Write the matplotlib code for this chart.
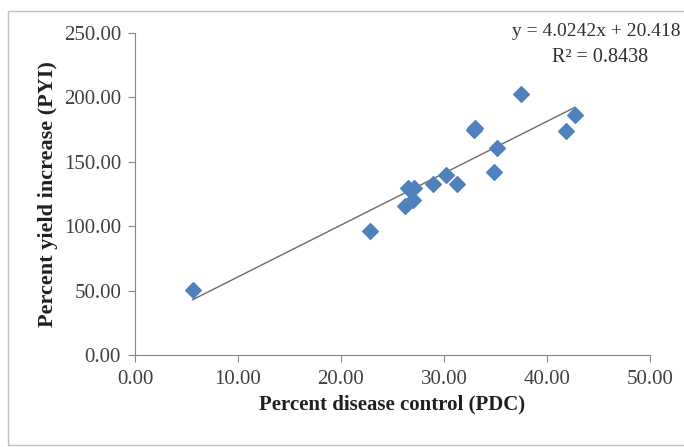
import matplotlib
matplotlib.use("Agg")
import matplotlib.pyplot as plt
from matplotlib.patches import Rectangle
import numpy as np

pdc = [5.6, 22.8, 26.2, 26.5, 27.1, 27.0, 28.9, 30.2, 31.3, 33.0, 32.9, 34.9, 35.1, 37.5, 41.8, 42.7]
pyi = [50.5, 96, 116, 130, 130, 120, 133, 140, 133, 176, 175, 142, 161, 203, 174, 186]
slope = 4.0242
intercept = 20.418
r2 = 0.8438
xticks = [0, 10, 20, 30, 40, 50]
yticks = [0, 50, 100, 150, 200, 250]

plt.rcParams['font.family'] = ['Liberation Serif', 'DejaVu Serif']

fig = plt.figure(figsize=(6.84, 4.47), dpi=100)
fig.patches.append(Rectangle((8/684, 1-445/447), 1.0, 434/447, transform=fig.transFigure,
                             fill=False, edgecolor='#bfbfbf', linewidth=1.0))
ax = fig.add_axes([135/684, 1-355/447, (650-135)/684, (355-33)/447])

ax.scatter(pdc, pyi, marker='D', s=64, color='#4F81BD', edgecolors='#4F81BD', zorder=3)
xs = np.array([min(pdc), max(pdc)])
ax.plot(xs, intercept + slope*xs, color='#6f6a66', linewidth=1.0, zorder=2)

ax.set_xlim(0, 50)
ax.set_ylim(0, 250)
ax.set_xticks(xticks)
ax.set_yticks(yticks)
ax.set_xticklabels([f"{v:.2f}" for v in xticks])
ax.set_yticklabels([f"{v:.2f}" for v in yticks])
for s in ['top', 'right']:
    ax.spines[s].set_visible(False)
for s in ['left', 'bottom']:
    ax.spines[s].set_color('#868686')
ax.tick_params(axis='both', direction='out', length=5, color='#868686', labelsize=15, labelcolor='#404040')
ax.tick_params(axis='x', pad=6)
ax.tick_params(axis='y', pad=5)
ax.set_xlabel('Percent disease control (PDC)', fontsize=15, fontweight='bold', labelpad=4, color='#202020')
ax.set_ylabel('Percent yield increase (PYI)', fontsize=16, fontweight='bold', labelpad=4, color='#202020')

fig.text(596/684, 1-31/447, f"y = {slope}x + {intercept}", ha='center', va='center', fontsize=14, color='#303030')
fig.text(600/684, 1-57/447, f"R² = {r2}", ha='center', va='center', fontsize=14.5, color='#303030')

fig.savefig('out.png', dpi=100)
